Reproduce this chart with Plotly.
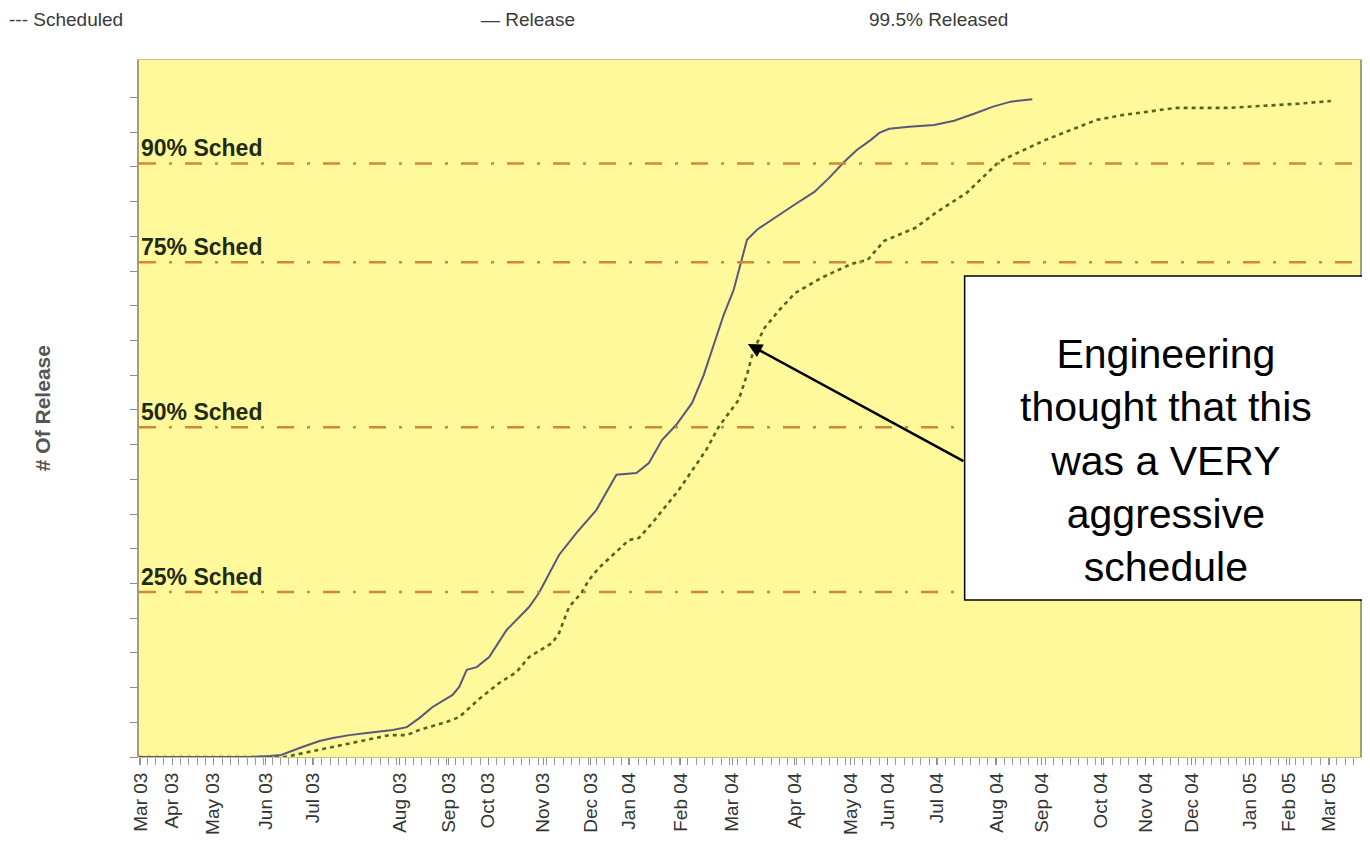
import plotly.graph_objects as go

# ---- data (x in axis units: one minor tick = 1 unit; y in # of releases) ----
month_labels = ["Mar 03", "Apr 03", "May 03", "Jun 03", "Jul 03", "Aug 03", "Sep 03", "Oct 03",
                "Nov 03", "Dec 03", "Jan 04", "Feb 04", "Mar 04", "Apr 04", "May 04", "Jun 04",
                "Jul 04", "Aug 04", "Sep 04", "Oct 04", "Nov 04", "Dec 04", "Jan 05", "Feb 05", "Mar 05"]
month_pos = [0.2, 4.0, 8.9, 15.2, 20.9, 31.3, 37.2, 42.0, 48.6, 54.3, 58.9, 65.1, 71.3, 78.8,
             85.6, 90.0, 95.9, 103.1, 108.5, 115.7, 121.0, 126.6, 133.5, 138.3, 143.1]

release_x = [0, 13.3, 15.7, 17.1, 19.3, 21.7, 23.3, 25.3, 27.4, 30.5, 32.2, 33.7, 35.3, 37.7,
             38.5, 39.4, 40.6, 42.1, 44.2, 46.9, 48.1, 50.5, 52.6, 55.0, 57.4, 59.8, 61.3, 62.9,
             64.6, 66.5, 67.9, 69.1, 70.3, 71.5, 72.4, 73.1, 74.3, 76.4, 78.8, 81.2, 83.0, 84.8,
             86.3, 88.0, 89.0, 90.2, 92.6, 95.6, 98.0, 100.4, 102.6, 104.8, 107.4]
release_y = [0, 0, 3, 6, 26, 46, 55, 63, 69, 78, 86, 112, 144, 179,
             202, 251, 259, 288, 366, 432, 473, 582, 646, 712, 813, 818, 847, 914,
             957, 1020, 1101, 1187, 1274, 1346, 1427, 1490, 1519, 1553, 1591, 1628, 1669, 1715,
             1749, 1778, 1798, 1810, 1816, 1821, 1833, 1853, 1873, 1888, 1895]

sched_x = [0, 17.5, 19.3, 23.3, 27.4, 30.1, 32.2, 33.7, 37.0, 38.5, 40.9, 43.3, 45.4, 46.9,
           49.7, 50.5, 51.7, 53.2, 54.1, 55.3, 58.9, 60.1, 61.7, 64.9, 68.2, 69.7, 72.1, 73.1,
           73.9, 75.2, 77.0, 78.9, 82.0, 85.7, 87.6, 88.4, 89.6, 93.3, 95.8, 99.5, 102.0, 103.4,
           104.6, 109.0, 112.1, 115.2, 118.4, 124.7, 131.0, 135.8, 139.4, 143.3]
sched_y = [0, 0, 9, 29, 49, 63, 63, 78, 101, 115, 167, 213, 245, 288,
           329, 357, 432, 473, 510, 545, 625, 631, 674, 769, 885, 951, 1029, 1101,
           1173, 1236, 1288, 1337, 1380, 1421, 1432, 1455, 1487, 1524, 1568, 1625, 1683, 1715,
           1729, 1778, 1807, 1836, 1850, 1870, 1870, 1876, 1882, 1890]

level_labels = ["90% Sched", "75% Sched", "50% Sched", "25% Sched"]
level_values = [1710, 1425, 950, 475]

y_ticks = list(range(0, 2000, 100))

legend_texts = ["--- Scheduled", "\u2014 Release", "99.5% Released"]
callout_text = "Engineering<br>thought that this<br>was a VERY<br>aggressive<br>schedule"

# ---- layout geometry (page body has an 8px margin) ----
OFF = 8
W, H = 1370 - 2 * OFF, 845 - 2 * OFF
ML, MR, MT, MB = 139 - OFF, 0, 60 - OFF, H - (757 - OFF)
XMAX = 146.8
YMAX = 2008
FONT = "Arial, Liberation Sans, sans-serif"

def px(p):   # screen pixel x -> paper x
    return (p - OFF - ML) / (W - ML - MR)

def py(p):   # screen pixel y -> paper y
    return (H - MB - (p - OFF)) / (H - MT - MB)

fig = go.Figure()

fig.add_trace(go.Scatter(x=sched_x, y=sched_y, mode="lines", name="Scheduled",
                         line=dict(color="#55641f", width=2.6, dash="4px,4px")))
fig.add_trace(go.Scatter(x=release_x, y=release_y, mode="lines", name="Release",
                         line=dict(color="#58587a", width=2)))

for lab, val in zip(level_labels, level_values):
    fig.add_shape(type="line", xref="x", yref="y", x0=0, x1=XMAX, y0=val, y1=val,
                  line=dict(color="#d2883a", width=2.5, dash="17px,13px,3px,13px"))
    fig.add_annotation(x=0, y=val, xref="x", yref="y", text="<b>%s</b>" % lab,
                       showarrow=False, xanchor="left", yanchor="bottom", xshift=0, yshift=0,
                       font=dict(family=FONT, size=23, color="#1e2a12"))

# callout box
fig.add_shape(type="rect", xref="paper", yref="paper",
              x0=px(966), x1=px(1380), y0=py(600), y1=py(276),
              line=dict(color="black", width=1.5), fillcolor="white", layer="above")
fig.add_annotation(xref="paper", yref="paper", x=px(1168), y=py(460), text=callout_text,
                   showarrow=False, align="center", xanchor="center", yanchor="middle",
                   font=dict(family=FONT, size=41, color="black"))
# arrow
fig.add_annotation(xref="x", yref="y", x=73.2, y=1190, axref="x", ayref="y",
                   ax=99.3, ay=850, text="", showarrow=True, arrowhead=2, arrowsize=1.1,
                   arrowwidth=2.6, arrowcolor="black")

# legend-like texts at top
top_y = py(OFF)
fig.add_annotation(xref="paper", yref="paper", x=px(OFF), y=top_y, text=legend_texts[0],
                   showarrow=False, xanchor="left", yanchor="top", borderpad=0,
                   font=dict(family=FONT, size=19, color="#3a3a3a"))
fig.add_annotation(xref="paper", yref="paper", x=px(481), y=top_y, text=legend_texts[1],
                   showarrow=False, xanchor="left", yanchor="top", borderpad=0,
                   font=dict(family=FONT, size=19, color="#3a3a3a"))
fig.add_annotation(xref="paper", yref="paper", x=px(940), y=top_y, text=legend_texts[2],
                   showarrow=False, xanchor="center", yanchor="top", borderpad=0,
                   font=dict(family=FONT, size=19, color="#3a3a3a"))

# y-axis title
fig.add_annotation(xref="paper", yref="paper", x=px(42), y=py(408), text="<b># Of Release</b>",
                   showarrow=False, textangle=-90, xanchor="center", yanchor="middle",
                   font=dict(family=FONT, size=21, color="#555555"))

fig.update_layout(
    width=W, height=H,
    margin=dict(l=ML, r=MR, t=MT, b=MB),
    paper_bgcolor="white", plot_bgcolor="#fff99c",
    showlegend=False,
    xaxis=dict(range=[0, XMAX], tickmode="array", tickvals=month_pos, ticktext=month_labels,
               tickangle=-90, ticks="outside", ticklen=7, tickcolor="#8c8c8c", tickwidth=1,
               showgrid=False, zeroline=False, showline=True, linecolor="#c8c28a", linewidth=1,
               mirror=True,
               tickfont=dict(family=FONT, size=19, color="#333333"),
               minor=dict(tickmode="linear", tick0=0, dtick=1, ticks="outside", ticklen=7,
                          tickcolor="#9a9a9a", tickwidth=1, showgrid=False)),
    yaxis=dict(range=[0, YMAX], tickmode="array", tickvals=y_ticks, ticks="outside",
               ticklen=7, tickcolor="#8c8c8c", showticklabels=False, showgrid=False,
               zeroline=False, showline=True, linecolor="#a39d78", linewidth=2, mirror=True),
)

fig.write_html("out.html")
